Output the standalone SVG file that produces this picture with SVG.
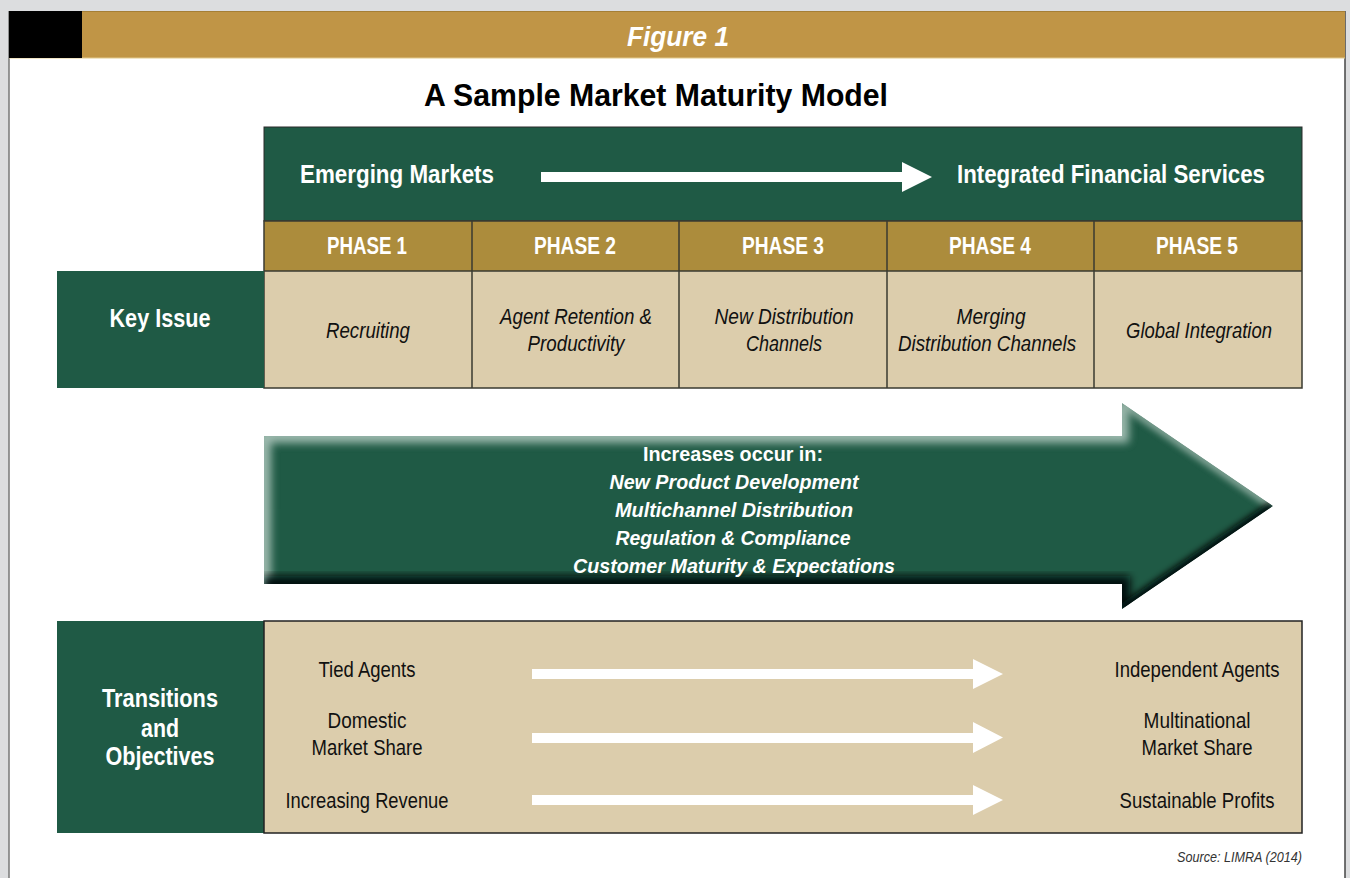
<svg xmlns="http://www.w3.org/2000/svg" width="1350" height="878" viewBox="0 0 1350 878">
  <defs>
    <style>
      text { font-family: "Liberation Sans Narrow", "Liberation Sans", Arial, sans-serif; }
      .w { fill: #ffffff; }
      .k { fill: #111111; }
      .b { font-weight: bold; }
      .i { font-style: italic; }
      .mid { text-anchor: middle; }
      .green { fill: #1f5a45; }
      .tan { fill: #dccdac; }
      .grid { stroke: #3a3a30; stroke-width: 1.5; fill: none; }
    </style>
    <clipPath id="bigArrowClip">
      <polygon points="264,436 1122,436 1122,403 1273,506 1122,609 1122,584 264,584"/>
    </clipPath>
    <filter id="soft" x="-10%" y="-50%" width="120%" height="200%">
      <feGaussianBlur stdDeviation="4.5"/>
    </filter>
    <filter id="softer" x="-10%" y="-50%" width="120%" height="200%">
      <feGaussianBlur stdDeviation="3"/>
    </filter>
  </defs>

  <!-- page -->
  <rect x="0" y="0" width="1350" height="878" fill="#dcdddf"/>
  <rect x="9" y="11" width="1336" height="867" fill="#ffffff"/>
  <line x1="9" y1="11" x2="9" y2="878" stroke="#777777" stroke-width="1.5"/>
  <line x1="1345" y1="11" x2="1345" y2="878" stroke="#444444" stroke-width="1.5"/>

  <!-- figure banner -->
  <g id="banner">
    <rect x="9" y="11" width="1336" height="47" fill="#c09546"/>
    <line x1="9" y1="11.5" x2="1345" y2="11.5" stroke="#a57f35" stroke-width="1"/>
    <line x1="9" y1="58" x2="1345" y2="58" stroke="#e2c98c" stroke-width="1"/>
    <rect x="9" y="11" width="73" height="47" fill="#000000"/>
    <text class="w b i mid" x="678" y="46" font-size="28" textLength="102" lengthAdjust="spacingAndGlyphs">Figure 1</text>
  </g>

  <text id="title" class="b mid" x="656" y="106" font-size="32" fill="#000" textLength="464" lengthAdjust="spacingAndGlyphs">A Sample Market Maturity Model</text>

  <!-- header band -->
  <g id="header">
    <rect class="green" x="264" y="127" width="1038" height="94" stroke="#2b2b2b" stroke-width="1"/>
    <text class="w b" x="300" y="183" font-size="26" textLength="194" lengthAdjust="spacingAndGlyphs">Emerging Markets</text>
    <text class="w b" x="957" y="183" font-size="26" textLength="308" lengthAdjust="spacingAndGlyphs">Integrated Financial Services</text>
  </g>

  <!-- phases -->
  <g id="phases">
    <rect x="264" y="221" width="1038" height="50" fill="#ac8c3c"/>
    <rect class="tan" x="264" y="271" width="1038" height="117"/>
    <rect class="grid" x="264" y="221" width="1038" height="167"/>
    <line class="grid" x1="264" y1="271" x2="1302" y2="271"/>
    <line class="grid" x1="472" y1="221" x2="472" y2="388"/>
    <line class="grid" x1="679" y1="221" x2="679" y2="388"/>
    <line class="grid" x1="887" y1="221" x2="887" y2="388"/>
    <line class="grid" x1="1094" y1="221" x2="1094" y2="388"/>
    <text class="w b mid" x="367" y="254" font-size="24" textLength="80" lengthAdjust="spacingAndGlyphs">PHASE 1</text>
    <text class="w b mid" x="575" y="254" font-size="24" textLength="82" lengthAdjust="spacingAndGlyphs">PHASE 2</text>
    <text class="w b mid" x="783" y="254" font-size="24" textLength="82" lengthAdjust="spacingAndGlyphs">PHASE 3</text>
    <text class="w b mid" x="990" y="254" font-size="24" textLength="82" lengthAdjust="spacingAndGlyphs">PHASE 4</text>
    <text class="w b mid" x="1197" y="254" font-size="24" textLength="82" lengthAdjust="spacingAndGlyphs">PHASE 5</text>
  </g>

  <g id="key-issue-label">
    <rect class="green" x="57" y="271" width="207" height="117"/>
    <text class="w b mid" x="160" y="327" font-size="25" textLength="101" lengthAdjust="spacingAndGlyphs">Key Issue</text>
  </g>

  <g id="key-issues">
    <text class="k i mid" x="368" y="338" font-size="22" textLength="84" lengthAdjust="spacingAndGlyphs">Recruiting</text>
    <text class="k i mid" x="576" y="324" font-size="22" textLength="152" lengthAdjust="spacingAndGlyphs">Agent Retention &amp;</text>
    <text class="k i mid" x="576" y="351" font-size="22" textLength="97" lengthAdjust="spacingAndGlyphs">Productivity</text>
    <text class="k i mid" x="784" y="324" font-size="22" textLength="139" lengthAdjust="spacingAndGlyphs">New Distribution</text>
    <text class="k i mid" x="784" y="351" font-size="22" textLength="76" lengthAdjust="spacingAndGlyphs">Channels</text>
    <text class="k i mid" x="991" y="324" font-size="22" textLength="69" lengthAdjust="spacingAndGlyphs">Merging</text>
    <text class="k i mid" x="987" y="351" font-size="22" textLength="178" lengthAdjust="spacingAndGlyphs">Distribution Channels</text>
    <text class="k i mid" x="1199" y="338" font-size="22" textLength="146" lengthAdjust="spacingAndGlyphs">Global Integration</text>
  </g>

  <!-- large bevelled arrow -->
  <g id="increases">
    <g clip-path="url(#bigArrowClip)">
      <polygon class="green" points="264,436 1122,436 1122,403 1273,506 1122,609 1122,584 264,584"/>
      <!-- highlight along upper and left edges -->
      <polyline points="264,590 264,436 1122,436 1122,403" fill="none" stroke="#b4cbc1" stroke-width="14" filter="url(#soft)" opacity="0.85"/>
      <polyline points="1122,403 1273,506" fill="none" stroke="#a4bdb2" stroke-width="9" filter="url(#softer)" opacity="0.75"/>
      <!-- shade along lower edges -->
      <polyline points="264,584 1122,584 1122,609" fill="none" stroke="#030d08" stroke-width="16" filter="url(#soft)"/>
      <polyline points="1122,609 1273,506" fill="none" stroke="#030d08" stroke-width="10" filter="url(#softer)"/>
    </g>
    <text class="w b mid" x="733" y="461" font-size="20" textLength="180" lengthAdjust="spacingAndGlyphs">Increases occur in:</text>
    <text class="w b i mid" x="734" y="489" font-size="20" textLength="249" lengthAdjust="spacingAndGlyphs">New Product Development</text>
    <text class="w b i mid" x="734" y="517" font-size="20" textLength="238" lengthAdjust="spacingAndGlyphs">Multichannel Distribution</text>
    <text class="w b i mid" x="733" y="545" font-size="20" textLength="235" lengthAdjust="spacingAndGlyphs">Regulation &amp; Compliance</text>
    <text class="w b i mid" x="734" y="573" font-size="20" textLength="322" lengthAdjust="spacingAndGlyphs">Customer Maturity &amp; Expectations</text>
  </g>

  <g id="transitions-label">
    <rect class="green" x="57" y="621" width="207" height="212"/>
    <text class="w b mid" x="160" y="707" font-size="25" textLength="116" lengthAdjust="spacingAndGlyphs">Transitions</text>
    <text class="w b mid" x="160" y="737" font-size="25" textLength="38" lengthAdjust="spacingAndGlyphs">and</text>
    <text class="w b mid" x="160" y="765" font-size="25" textLength="109" lengthAdjust="spacingAndGlyphs">Objectives</text>
  </g>

  <g id="transitions">
    <rect class="tan" x="264" y="621" width="1038" height="212" stroke="#222" stroke-width="1.5"/>
    <text class="k mid" x="367" y="677" font-size="22" textLength="97" lengthAdjust="spacingAndGlyphs">Tied Agents</text>
    <text class="k mid" x="367" y="728" font-size="22" textLength="79" lengthAdjust="spacingAndGlyphs">Domestic</text>
    <text class="k mid" x="367" y="755" font-size="22" textLength="111" lengthAdjust="spacingAndGlyphs">Market Share</text>
    <text class="k mid" x="367" y="808" font-size="22" textLength="163" lengthAdjust="spacingAndGlyphs">Increasing Revenue</text>
    <text class="k mid" x="1197" y="677" font-size="22" textLength="165" lengthAdjust="spacingAndGlyphs">Independent Agents</text>
    <text class="k mid" x="1197" y="728" font-size="22" textLength="107" lengthAdjust="spacingAndGlyphs">Multinational</text>
    <text class="k mid" x="1197" y="755" font-size="22" textLength="111" lengthAdjust="spacingAndGlyphs">Market Share</text>
    <text class="k mid" x="1197" y="808" font-size="22" textLength="155" lengthAdjust="spacingAndGlyphs">Sustainable Profits</text>
  </g>

  <!-- white direction arrows -->
  <g id="connectors" fill="#ffffff">
    <polygon points="541,172 902,172 902,162 932,177 902,192 902,182 541,182"/>
    <polygon points="532,669 973,669 973,659 1003,674 973,689 973,679 532,679"/>
    <polygon points="532,733 973,733 973,722 1003,737.5 973,753 973,743 532,743"/>
    <polygon points="532,795 973,795 973,785 1003,800 973,815 973,805 532,805"/>
  </g>

  <text id="source" class="i" x="1302" y="862" font-size="14" fill="#333" text-anchor="end" textLength="125" lengthAdjust="spacingAndGlyphs">Source: LIMRA (2014)</text>
</svg>
